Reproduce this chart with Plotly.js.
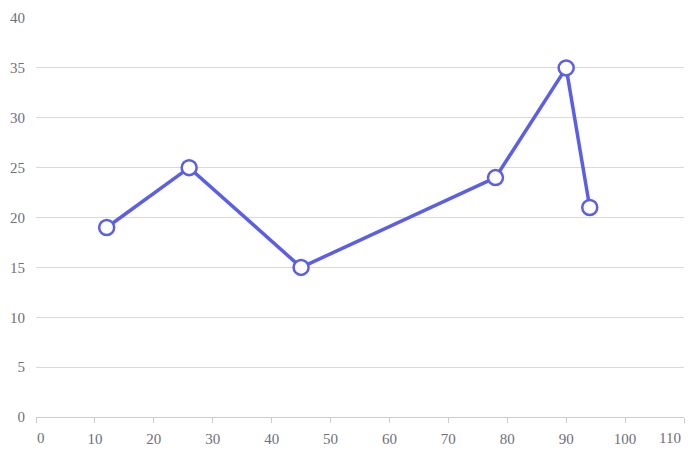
<!DOCTYPE html>
<html>
<head>
<meta charset="utf-8">
<script src="https://cdn.plot.ly/plotly-3.0.1.min.js"></script>
<style>html,body{margin:0;padding:0;background:#fff;}#chart{width:700px;height:462px;}</style>
</head>
<body>
<div id="chart"></div>
<script>
const xValues = [12, 26, 45, 78, 90, 94];
const yValues = [19, 25, 15, 24, 35, 21];
const xTicks = [0, 10, 20, 30, 40, 50, 60, 70, 80, 90, 100, 110];
const yTicks = [0, 5, 10, 15, 20, 25, 30, 35, 40];

const color = '#5b5ee6';
const fontFamily = '"Liberation Serif", serif';
const labelColor = '#6e7079';
const trace = {
  x: xValues, y: yValues, type: 'scatter', mode: 'lines+markers',
  line: {color: color, width: 3.5},
  marker: {size: 15, color: '#ffffff', line: {color: color, width: 2.5}},
  hoverinfo: 'x+y'
};
const lastIdx = xTicks.length - 1;
// edge labels pulled inward like the reference
const xTickText = xTicks.map((v, i) => (i === 0 || i === lastIdx) ? '' : String(v));
const edgeAnnotations = [
  {x: xTicks[0], xanchor: 'left', xshift: -1, text: String(xTicks[0])},
  {x: xTicks[lastIdx], xanchor: 'right', xshift: -1, text: String(xTicks[lastIdx])}
].map(a => Object.assign({
  xref: 'x', yref: 'paper', y: 0, yanchor: 'top', yshift: -11, showarrow: false,
  font: {family: fontFamily, size: 15, color: labelColor}
}, a));

const layout = {
  width: 700, height: 462,
  margin: {l: 36, r: 16, t: 18, b: 45},
  paper_bgcolor: '#fff', plot_bgcolor: '#fff',
  font: {family: fontFamily, size: 15, color: labelColor},
  showlegend: false,
  annotations: edgeAnnotations,
  xaxis: {
    range: [0, 110], tickvals: xTicks, ticktext: xTickText,
    showgrid: false, zeroline: false, showline: true, linecolor: '#cccccc', linewidth: 1,
    ticks: 'outside', ticklen: 5, tickcolor: '#cccccc', ticklabelstandoff: 3, fixedrange: true
  },
  yaxis: {
    range: [0, 40], tickvals: yTicks, ticktext: yTicks.map(String),
    showgrid: true, gridcolor: '#d9d9d9', gridwidth: 1, zeroline: false, showline: false,
    ticks: '', ticklabelstandoff: 10, fixedrange: true
  }
};
Plotly.newPlot('chart', [trace], layout, {displayModeBar: false});
</script>
</body>
</html>
